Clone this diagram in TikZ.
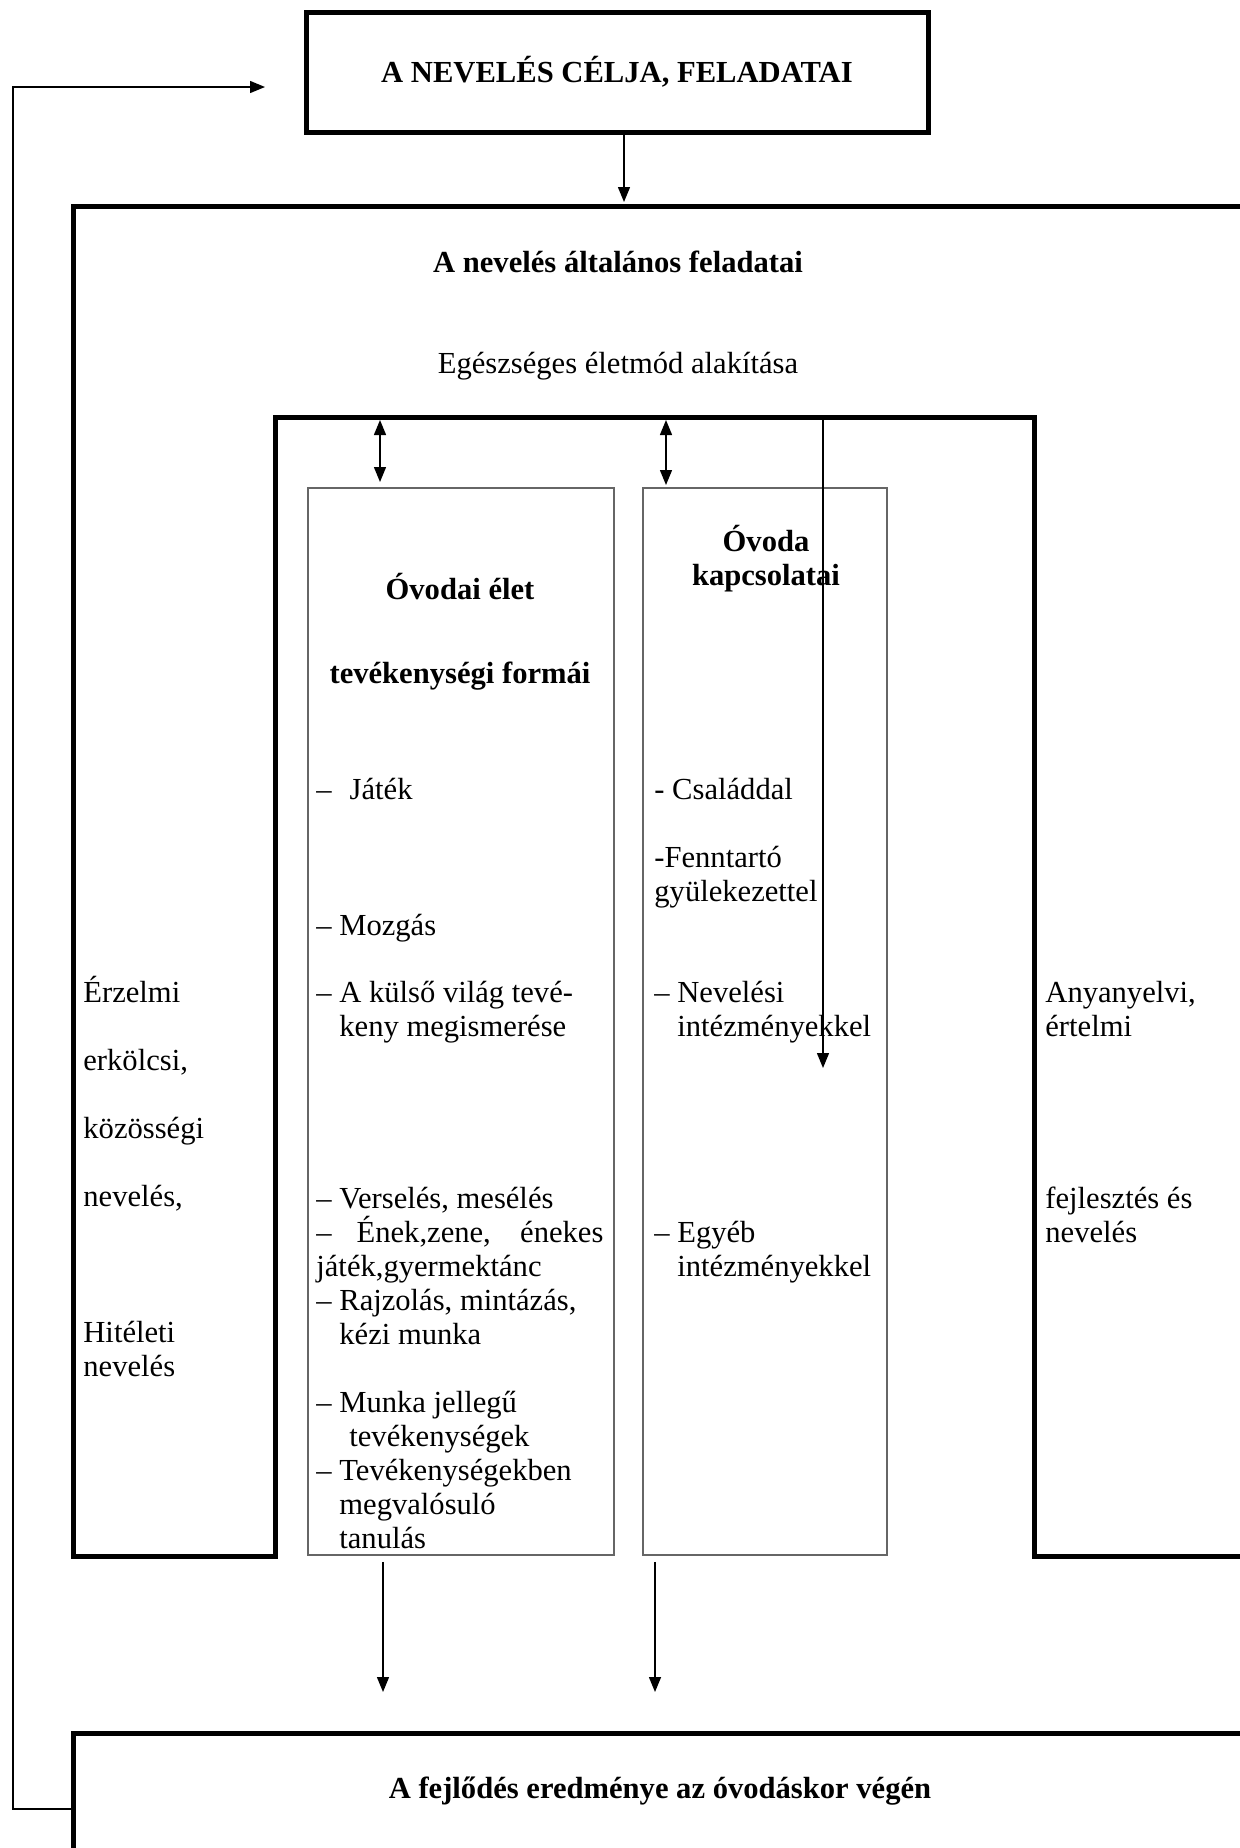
\documentclass[tikz,border=0pt]{standalone}
\usepackage{fontspec}
\setmainfont{Liberation Serif}
\usetikzlibrary{arrows.meta}

\begin{document}
\begin{tikzpicture}[x=0.5pt,y=-0.5pt,
	every node/.style={font=\fontsize{15.3}{17}\selectfont},
	thickbox/.style={draw,line width=2.5pt,line join=miter},
	colbox/.style={draw=black!60,line width=0.8pt},
	txt/.style={anchor=base west,inner sep=0pt,align=left},
	ttl/.style={font=\fontsize{15.3}{17}\selectfont\bfseries},
	arr/.style={line width=0.7pt,-{Triangle[length=7.5pt,width=6pt]}},
	darr/.style={line width=0.7pt,{Triangle[length=7.5pt,width=6pt]}-{Triangle[length=7.5pt,width=6pt]}}]
				\useasboundingbox (0,0) rectangle (1240,1848);
				\clip (0,0) rectangle (1240,1848);
				% Nevelesi program (multi-line texts sit on their last line)
				\node[thickbox,ttl,minimum width=311pt,minimum height=60pt] (CelBox) at (617,72) {A NEVELÉS CÉLJA, FELADATAI};
				\draw[thickbox] (73,206) -- (1300,206) -- (1300,1556) -- (1034,1556) -- (1034,417) -- (275,417) -- (275,1556) -- (73,1556) -- cycle;
				\draw[thickbox] (73,1733) rectangle (1300,1900);
				\node[colbox,minimum width=153pt,minimum height=533.5pt] (EletCol) at (461,1021.5) {};
				\node[colbox,minimum width=122pt,minimum height=533.5pt] (KapcsCol) at (765,1021.5) {};
				
				\node[ttl,anchor=base] (AltFel) at (618,272) {A nevelés általános feladatai};
				\node[anchor=base] (Egeszseg) at (618,373) {Egészséges életmód alakítása};
				\node[ttl,anchor=base] (EletHead) at (460,599) {Óvodai élet};
				\node[ttl,anchor=base] (FormHead) at (460,683) {tevékenységi formái};
				\node[ttl,anchor=base,align=center,inner sep=0pt] (KapcsHead) at (766,585) {Óvoda\\kapcsolatai};
				\node[ttl,anchor=base] (Eredmeny) at (660,1798) {A fejlődés eredménye az óvodáskor végén};
				
				\node[txt] (Jatek) at (316,799) {–\hspace{9pt}Játék};
				\node[txt] (Mozgas) at (316,935) {– Mozgás};
				\node[txt] (Kulso) at (316,1036) {– A külső világ tevé-\\\hspace*{11.5pt}keny megismerése};
				\node[txt] (Verseles) at (316,1548) {– Verselés, mesélés\\\makebox[143.5pt][s]{– Ének,zene, énekes}\\játék,gyermektánc\\– Rajzolás, mintázás,\\\hspace*{11.5pt}kézi munka\\[17pt]– Munka jellegű\\\hspace*{16.5pt}tevékenységek\\– Tevékenységekben\\\hspace*{11.5pt}megvalósuló\\\hspace*{11.5pt}tanulás};
				\node[txt] (Csalad) at (654,799) {- Családdal};
				\node[txt] (Fenntarto) at (654,901) {-Fenntartó\\gyülekezettel};
				\node[txt] (Nevelesi) at (654,1036) {– Nevelési\\\hspace*{11.5pt}intézményekkel};
				\node[txt] (Egyeb) at (654,1276) {– Egyéb\\\hspace*{11.5pt}intézményekkel};
				\node[txt] (Erzelmi) at (83,1376) {Érzelmi\\[17pt]erkölcsi,\\[17pt]közösségi\\[17pt]nevelés,\\[51pt]Hitéleti\\nevelés};
				\node[txt] (Anyanyelvi) at (1045,1036) {Anyanyelvi,\\értelmi};
				\node[txt] (Fejlesztes) at (1045,1242) {fejlesztés és\\nevelés};
				
				\coordinate (FrameTop) at (624,202);
				\coordinate (InnerA) at (380,420);
				\coordinate (InnerB) at (666,420);
				\coordinate (InnerC) at (823,419);
				\coordinate (EletTop) at (380,482);
				\coordinate (KapcsTop) at (666,485);
				\coordinate (KapcsMid) at (823,1068);
				\coordinate (DownA) at (383,1692);
				\coordinate (DownB) at (655,1692);
				\coordinate (FbStart) at (73,1809);
				\coordinate (FbEnd) at (265,87);
				
				\draw[arr] (CelBox.south -| FrameTop) -- (FrameTop);
				\draw[darr] (InnerA) -- (EletTop);
				\draw[darr] (InnerB) -- (KapcsTop);
				\draw[arr] (InnerC) -- (KapcsMid);
				\draw[arr,shorten <=3pt] (EletCol.south -| DownA) -- (DownA);
				\draw[arr,shorten <=3pt] (KapcsCol.south -| DownB) -- (DownB);
				\draw[arr] (FbStart) -- (13,1809) |- (FbEnd);
				
\end{tikzpicture}
\end{document}
